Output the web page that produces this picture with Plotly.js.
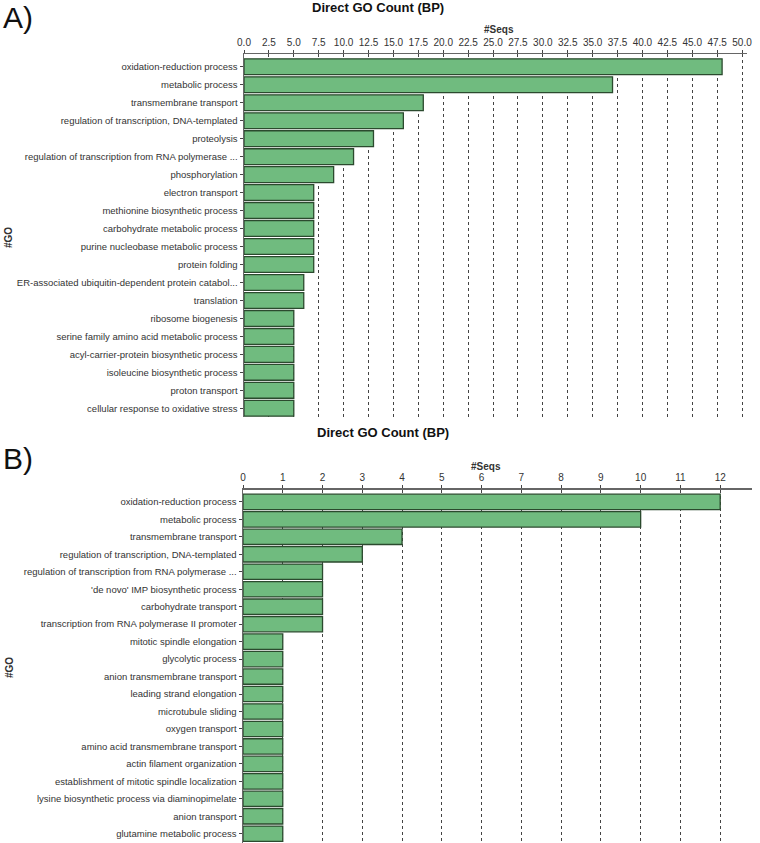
<!DOCTYPE html>
<html>
<head>
<meta charset="utf-8">
<script src="https://cdn.plot.ly/plotly-3.0.1.min.js"></script>
<style>html,body{margin:0;padding:0;background:#fff;}#chart{width:760px;height:843px;}</style>
</head>
<body>
<div id="chart"></div>
<script>
// ---- data ----
const termsA = [
  "oxidation-reduction process",
  "metabolic process",
  "transmembrane transport",
  "regulation of transcription, DNA-templated",
  "proteolysis",
  "regulation of transcription from RNA polymerase ...",
  "phosphorylation",
  "electron transport",
  "methionine biosynthetic process",
  "carbohydrate metabolic process",
  "purine nucleobase metabolic process",
  "protein folding",
  "ER-associated ubiquitin-dependent protein catabol...",
  "translation",
  "ribosome biogenesis",
  "serine family amino acid metabolic process",
  "acyl-carrier-protein biosynthetic process",
  "isoleucine biosynthetic process",
  "proton transport",
  "cellular response to oxidative stress"
];
const countsA = [48, 37, 18, 16, 13, 11, 9, 7, 7, 7, 7, 7, 6, 6, 5, 5, 5, 5, 5, 5];

const termsB = [
  "oxidation-reduction process",
  "metabolic process",
  "transmembrane transport",
  "regulation of transcription, DNA-templated",
  "regulation of transcription from RNA polymerase ...",
  "'de novo' IMP biosynthetic process",
  "carbohydrate transport",
  "transcription from RNA polymerase II promoter",
  "mitotic spindle elongation",
  "glycolytic process",
  "anion transmembrane transport",
  "leading strand elongation",
  "microtubule sliding",
  "oxygen transport",
  "amino acid transmembrane transport",
  "actin filament organization",
  "establishment of mitotic spindle localization",
  "lysine biosynthetic process via diaminopimelate",
  "anion transport",
  "glutamine metabolic process"
];
const countsB = [12, 10, 4, 3, 2, 2, 2, 2, 1, 1, 1, 1, 1, 1, 1, 1, 1, 1, 1, 1];

const ticksA = [0, 2.5, 5, 7.5, 10, 12.5, 15, 17.5, 20, 22.5, 25, 27.5, 30, 32.5, 35, 37.5, 40, 42.5, 45, 47.5, 50];
const ticksB = [0, 1, 2, 3, 4, 5, 6, 7, 8, 9, 10, 11, 12];

// ---- layout helpers ----
const W = 760, H = 843;
const px = x => x / W;
const py = y => 1 - y / H;

const FONT = "Liberation Sans, Arial, sans-serif";
const barFill = "#70bb7f";
const barLine = "#2b4a2e";

const traceA = {
  type: "bar", orientation: "h",
  x: countsA, y: termsA,
  xaxis: "x", yaxis: "y",
  marker: {color: barFill, line: {color: barLine, width: 1.3}},
  hoverinfo: "x+y"
};
const traceB = {
  type: "bar", orientation: "h",
  x: countsB, y: termsB,
  xaxis: "x2", yaxis: "y2",
  marker: {color: barFill, line: {color: barLine, width: 1.3}},
  hoverinfo: "x+y"
};

const xCommon = {
  side: "top",
  showline: true, linecolor: "#666", linewidth: 1.5,
  ticks: "outside", ticklen: 3, tickcolor: "#444",
  showgrid: true, gridcolor: "#444", gridwidth: 1, griddash: "dot",
  zeroline: false,
  tickfont: {family: FONT, size: 10, color: "#333"},
  automargin: false, fixedrange: true
};
const yCommon = {
  type: "category",
  showline: true, linecolor: "#666", linewidth: 1.5,
  ticks: "outside", ticklen: 3, tickcolor: "#444",
  showgrid: false, zeroline: false,
  tickfont: {family: FONT, size: 9.5, color: "#333"},
  automargin: false, fixedrange: true
};

function ann(text, x, y, size, opts) {
  return Object.assign({
    text: text, x: px(x), y: py(y), xref: "paper", yref: "paper",
    xanchor: "center", yanchor: "middle", showarrow: false,
    font: {family: FONT, size: size, color: "#222"}
  }, opts || {});
}

const layout = {
  width: W, height: H,
  margin: {l: 0, r: 0, t: 0, b: 0},
  paper_bgcolor: "#fff", plot_bgcolor: "#fff",
  showlegend: false,
  bargap: 0.12,
  xaxis: Object.assign({}, xCommon, {
    domain: [px(244), px(747)], anchor: "y",
    range: [0, 50.5], tickmode: "array", tickvals: ticksA,
    ticktext: ticksA.map(v => v.toFixed(1))
  }),
  yaxis: Object.assign({}, yCommon, {
    domain: [py(417.3), py(54)], anchor: "x",
    range: [19.5, -0.71]
  }),
  xaxis2: Object.assign({}, xCommon, {
    domain: [px(243), px(752)], anchor: "y2",
    range: [0, 12.8], tickmode: "array", tickvals: ticksB,
    ticktext: ticksB.map(v => String(v))
  }),
  yaxis2: Object.assign({}, yCommon, {
    domain: [py(842.5), py(489.5)], anchor: "x2",
    range: [19.5, -0.71]
  }),
  annotations: [
    ann("A)", 1, 17, 30, {xanchor: "left", font: {family: FONT, size: 30, color: "#111"}}),
    ann("<b>Direct GO Count (BP)</b>", 378, 8, 13, {font: {family: FONT, size: 13, color: "#111"}}),
    ann("<b>#Seqs</b>", 499, 29, 10, {font: {family: FONT, size: 10, color: "#333"}}),
    ann("<b>#GO</b>", 9, 238, 10, {textangle: -90, font: {family: FONT, size: 10, color: "#333"}}),

    ann("B)", 1, 458, 30, {xanchor: "left", font: {family: FONT, size: 30, color: "#111"}}),
    ann("<b>Direct GO Count (BP)</b>", 383, 432, 13, {font: {family: FONT, size: 13, color: "#111"}}),
    ann("<b>#Seqs</b>", 486, 466, 10, {font: {family: FONT, size: 10, color: "#333"}}),
    ann("<b>#GO</b>", 9, 668, 10, {textangle: -90, font: {family: FONT, size: 10, color: "#333"}})
  ]
};

Plotly.newPlot("chart", [traceA, traceB], layout, {displayModeBar: false, staticPlot: true});
</script>
</body>
</html>
